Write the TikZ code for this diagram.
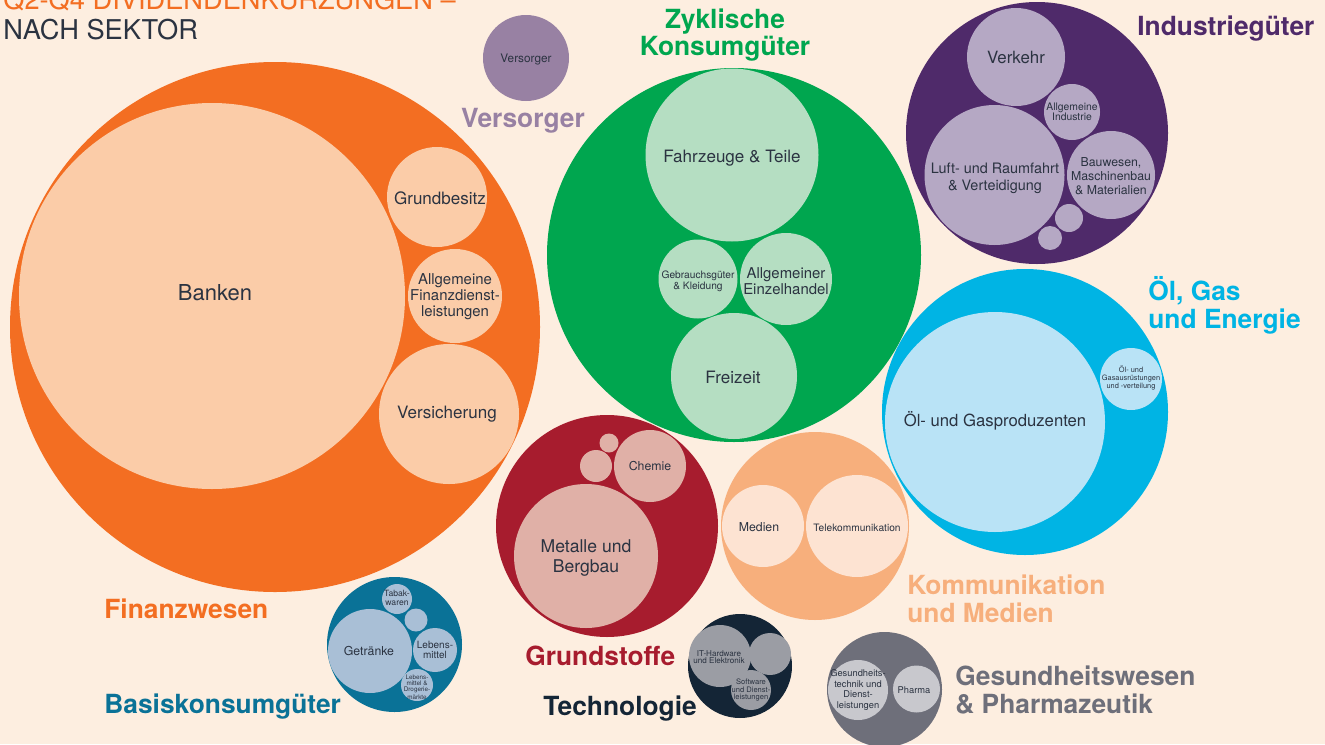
\documentclass[tikz,border=0pt]{standalone}
\usepackage{fontspec}
\setmainfont{TeX Gyre Heros}
\usepackage{xcolor}
\usepackage{tikz}

\definecolor{bg}{HTML}{FDEEE0}
\definecolor{ink}{HTML}{2B3341}
\definecolor{finA}{HTML}{F36E22}
\definecolor{finB}{HTML}{FBCCA8}
\definecolor{verA}{HTML}{9881A3}
\definecolor{zykA}{HTML}{00A64F}
\definecolor{zykB}{HTML}{B5DEC2}
\definecolor{indA}{HTML}{4F2A6A}
\definecolor{indB}{HTML}{B5A8C4}
\definecolor{oelA}{HTML}{00B4E4}
\definecolor{oelB}{HTML}{B9E3F6}
\definecolor{gruA}{HTML}{A71C2E}
\definecolor{gruB}{HTML}{E0B0A7}
\definecolor{komA}{HTML}{F7AF7C}
\definecolor{komB}{HTML}{FDE3D2}
\definecolor{basA}{HTML}{0A7297}
\definecolor{basB}{HTML}{A9BFD6}
\definecolor{tecA}{HTML}{142536}
\definecolor{tecB}{HTML}{9B9DA4}
\definecolor{gesA}{HTML}{6E6F7A}
\definecolor{gesB}{HTML}{C8C8CD}

\tikzset{
  lbl/.style={text=ink, align=center, inner sep=0pt},
  fs/.style 2 args={font=\fontsize{#1}{#2}\selectfont},
  sector/.style={font=\fontsize{15}{15.9}\selectfont\bfseries, align=left, inner sep=0pt, anchor=base west},
}

\begin{document}
\begin{tikzpicture}[x=0.02cm, y=-0.02cm]
            \fill[bg] (0,0) rectangle (1325,744);
            \useasboundingbox (0,0) rectangle (1325,744);

            % title
            \node[anchor=base west, inner sep=0pt, text=finA, fs={15.5}{17}] (titleA) at (3,9) {Q2-Q4 DIVIDENDENKÜRZUNGEN –};
            \node[anchor=base west, inner sep=0pt, text=ink, fs={15.5}{17}] (titleB) at (3,39) {NACH SEKTOR};

            % Finanzwesen
            \fill[finA] (275,327) circle (265);
            \fill[finB] (212,296) circle (193);
            \fill[finB] (437,197) circle (50);
            \fill[finB] (455,296) circle (47);
            \fill[finB] (449,414) circle (70);
            \node[lbl, fs={12.5}{14}] (banken) at (215,293) {Banken};
            \node[lbl, fs={9.7}{11}] (grundbesitz) at (440,198) {Grundbesitz};
            \node[lbl, fs={8.5}{9.1}] (finanzdl) at (455,297) {Allgemeine\\Finanzdienst-\\leistungen};
            \node[lbl, fs={9.7}{11}] (versicherung) at (447,414) {Versicherung};
            \node[sector, text=finA] (finanzwesen) at (104,618) {Finanzwesen};

            % Versorger
            \fill[verA] (526,58) circle (43);
            \node[lbl, fs={6.7}{8}] (versorgerIn) at (526,59) {Versorger};
            \node[sector, text=verA, anchor=base] (versorger) at (523,127) {Versorger};

            % Zyklische Konsumgueter
            \fill[zykA] (734,255) circle (187);
            \fill[zykB] (732,155) circle (86.5);
            \fill[zykB] (698,279) circle (39.5);
            \fill[zykB] (786,279) circle (46);
            \fill[zykB] (734,376) circle (63);
            \node[lbl, fs={9.7}{11}] (fahrzeuge) at (732,158) {Fahrzeuge \& Teile};
            \node[lbl, fs={5.8}{6.1}] (gebrauch) at (698,281) {Gebrauchsgüter\\\& Kleidung};
            \node[lbl, fs={8.5}{9.1}] (einzelhandel) at (786,281) {Allgemeiner\\Einzelhandel};
            \node[lbl, fs={9.7}{11}] (freizeit) at (733,377) {Freizeit};
            \node[sector, text=zykA, align=center, anchor=base] (zyklisch) at (725,55) {Zyklische\\[-1.1pt]Konsumgüter};

            % Industriegueter
            \fill[indA] (1037,133) circle (131);
            \fill[indB] (1016,57) circle (49);
            \fill[indB] (1072,112) circle (28);
            \fill[indB] (994.5,175) circle (70);
            \fill[indB] (1111,175) circle (44);
            \fill[indB] (1069,218) circle (14);
            \fill[indB] (1050,238) circle (12);
            \node[lbl, fs={9.6}{11}] (verkehr) at (1016,57) {Verkehr};
            \node[lbl, fs={5.9}{5.9}] (allgind) at (1072,112) {Allgemeine\\Industrie};
            \node[lbl, fs={8.2}{9.6}] (luftfahrt) at (995,178) {Luft- und Raumfahrt\\\& Verteidigung};
            \node[lbl, fs={7}{8}] (bauwesen) at (1111,176) {Bauwesen,\\Maschinenbau\\\& Materialien};
            \node[sector, text=indA] (industrie) at (1137,35) {Industriegüter};

            % Oel, Gas und Energie
            \fill[oelA] (1025,412) circle (143);
            \fill[oelB] (995,422) circle (110);
            \fill[oelB] (1131,379) circle (31);
            \node[lbl, fs={9.5}{11}] (produzenten) at (995,421) {Öl- und Gasproduzenten};
            \node[lbl, fs={4.2}{4.5}] (ausruestung) at (1131,378) {Öl- und\\Gasausrüstungen\\und -verteilung};
            \node[sector, text=oelA] (oelgas) at (1148,328) {Öl, Gas\\und Energie};

            % Grundstoffe
            \fill[gruA] (607,526) circle (111);
            \fill[gruB] (586,556) circle (72);
            \fill[gruB] (650,466) circle (36);
            \fill[gruB] (596,466) circle (16);
            \fill[gruB] (609,443) circle (9.5);
            \node[lbl, fs={10}{11.2}] (metalle) at (586,558) {Metalle und\\Bergbau};
            \node[lbl, fs={7}{8}] (chemie) at (650,466) {Chemie};
            \node[sector, text=gruA] (grundstoffe) at (525,665) {Grundstoffe};

            % Kommunikation und Medien
            \fill[komA] (815,526) circle (94);
            \fill[komB] (763,526) circle (41);
            \fill[komB] (857,526) circle (51);
            \node[lbl, fs={7}{8}] (medien) at (759,527) {Medien};
            \node[lbl, fs={5.8}{6.5}] (telekom) at (857,528) {Telekommunikation};
            \node[sector, text=komA] (kommunikation) at (907,622) {Kommunikation\\und Medien};

            % Basiskonsumgueter
            \fill[basA] (394.5,644.5) circle (67.5);
            \fill[basB] (370,651) circle (42);
            \fill[basB] (397,599) circle (15);
            \fill[basB] (416,620) circle (11.5);
            \fill[basB] (435,650) circle (22);
            \fill[basB] (417,685) circle (16);
            \node[lbl, fs={7}{8}] (getraenke) at (369,651) {Getränke};
            \node[lbl, fs={4.9}{4.7}] (tabak) at (397,598) {Tabak-\\waren};
            \node[lbl, fs={5.7}{6}] (lebensmittel) at (435,650) {Lebens-\\mittel};
            \node[lbl, fs={3.6}{3.4}] (drogerie) at (417,687) {Lebens-\\mittel \&\\Drogerie-\\märkte};
            \node[sector, text=basA] (basis) at (104,713) {Basiskonsumgüter};

            % Technologie
            \fill[tecA] (740,666) circle (52);
            \fill[tecB] (720,656) circle (31);
            \fill[tecB] (770,654) circle (21);
            \fill[tecB] (751,690) circle (20);
            \node[lbl, fs={4.6}{4.4}] (hardware) at (719,657) {IT-Hardware\\und Elektronik};
            \node[lbl, fs={4.3}{4.2}] (software) at (751,690) {Software\\und Dienst-\\leistungen};
            \node[sector, text=tecA] (technologie) at (543,715) {Technologie};

            % Gesundheitswesen
            \fill[gesA] (884.5,689.5) circle (57.5);
            \fill[gesB] (858,690) circle (30);
            \fill[gesB] (916.5,689) circle (23.5);
            \node[lbl, fs={5.3}{6}] (medtech) at (858,690) {Gesundheits-\\technik und\\Dienst-\\leistungen};
            \node[lbl, fs={5.3}{6}] (pharma) at (914,690) {Pharma};
            \node[sector, text=gesA] (gesundheit) at (955,713) {Gesundheitswesen\\\& Pharmazeutik};
\end{tikzpicture}
\end{document}
